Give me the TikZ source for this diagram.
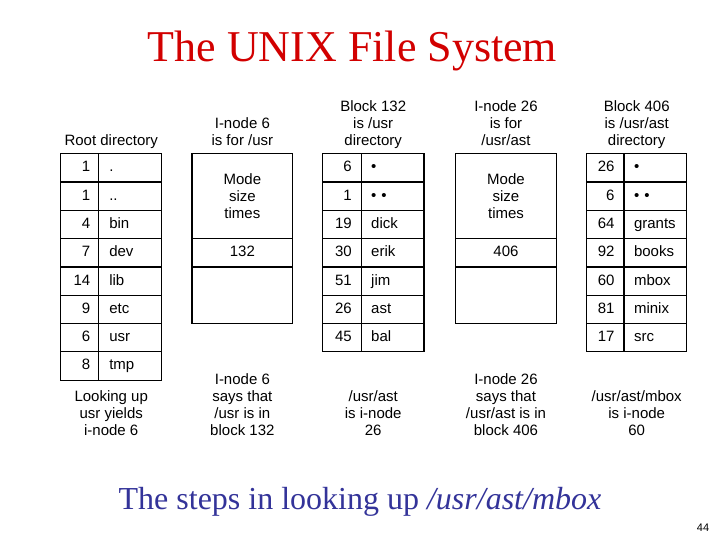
\documentclass[tikz,border=0pt]{standalone}
\usepackage{fontspec}
\setmainfont{Liberation Serif}
\newfontfamily\helv{Liberation Sans}
\definecolor{titlered}{RGB}{210,0,0}
\definecolor{footblue}{RGB}{51,51,153}
\begin{document}
\begin{tikzpicture}[x=1pt,y=-1pt,
  sansfont/.style={font=\helv\fontsize{15}{17}\selectfont},
  lab/.style={sansfont, align=center, inner sep=0pt, anchor=north},
  box/.style={draw, line width=1.2pt, inner sep=0pt, sansfont},
  cell/.style={box, minimum height=28.3pt, text height=11pt, text depth=3pt},
  numcell/.style={cell, align=right},
  namecell/.style={cell, align=left},
  inodecell/.style={box, minimum width=100.7pt, align=center}
]
\useasboundingbox (0,0) rectangle (720,540);
\fill[white] (0,0) rectangle (720,540);

% title
\node[font=\fontsize{44}{50}\selectfont, text=titlered, anchor=base, inner sep=0pt] (title) at (352.5,62) {The UNIX File System};

% root directory
\foreach \n/\s [count=\i] in {1/., 1/.., 4/bin, 7/dev, 14/lib, 9/etc, 6/usr, 8/tmp} {
  \node[numcell, text width=21.6pt, inner xsep=8pt] (rn\i) at (79.5, {153.7+(\i-0.5)*28.3}) {\n};
  \node[namecell, text width=41.4pt, inner xsep=11pt] (rs\i) at (130, {153.7+(\i-0.5)*28.3}) {\s};
}

% block 132
\foreach \n/\s [count=\i] in {6/•, 1/• •, 19/dick, 30/erik, 51/jim, 26/ast, 45/bal} {
  \node[numcell, text width=19.4pt, inner xsep=10pt] (an\i) at (342, {153.7+(\i-0.5)*28.3}) {\n};
  \node[namecell, text width=43.3pt, inner xsep=9.5pt] (as\i) at (392.85, {153.7+(\i-0.5)*28.3}) {\s};
}

% block 406
\foreach \n/\s [count=\i] in {26/•, 6/• •, 64/grants, 92/books, 60/mbox, 81/minix, 17/src} {
  \node[numcell, text width=18.3pt, inner xsep=9.5pt] (bn\i) at (605.35, {153.7+(\i-0.5)*28.3}) {\n};
  \node[namecell, text width=42.7pt, inner xsep=10pt] (bs\i) at (655.35, {153.7+(\i-0.5)*28.3}) {\s};
}

% i-node 6
\node[inodecell, minimum height=84.8pt] (ia1) at (242.35,196.1) {Mode\\size\\times};
\node[inodecell, minimum height=28.4pt, text height=11pt, text depth=3pt] (ia2) at (242.35,252.7) {132};
\node[inodecell, minimum height=56.6pt] (ia3) at (242.35,295.2) {};

% i-node 26
\node[inodecell, minimum height=84.8pt] (ib1) at (506,196.1) {Mode\\size\\times};
\node[inodecell, minimum height=28.4pt, text height=11pt, text depth=3pt] (ib2) at (506,252.7) {406};
\node[inodecell, minimum height=56.6pt] (ib3) at (506,295.2) {};

% labels above
\node[lab] (t1) at (111.2,134) {Root directory};
\node[lab] (t2) at (242.35,117) {I-node 6\\is for /usr};
\node[lab] (t3) at (373.2,100) {Block 132\\is /usr\\directory};
\node[lab] (t4) at (506,100) {I-node 26\\is for\\/usr/ast};
\node[lab] (t5) at (636.7,100) {Block 406\\is /usr/ast\\directory};

% labels below
\node[lab] (u1) at (111.2,390) {Looking up\\usr yields\\i-node 6};
\node[lab] (u2) at (242.35,373) {I-node 6\\says that\\/usr is in\\block 132};
\node[lab] (u3) at (373.2,390) {/usr/ast\\is i-node\\26};
\node[lab] (u4) at (506,373) {I-node 26\\says that\\/usr/ast is in\\block 406};
\node[lab] (u5) at (636.7,390) {/usr/ast/mbox\\is i-node\\60};

% footer
\node[font=\fontsize{32}{38}\selectfont, text=footblue, anchor=base, inner sep=0pt] (foot) at (360,509) {The steps in looking up \textit{/usr/ast/mbox}};
\node[font=\helv\fontsize{11}{13}\selectfont, anchor=base, inner sep=0pt] (pg) at (703,531) {44};
\end{tikzpicture}
\end{document}
